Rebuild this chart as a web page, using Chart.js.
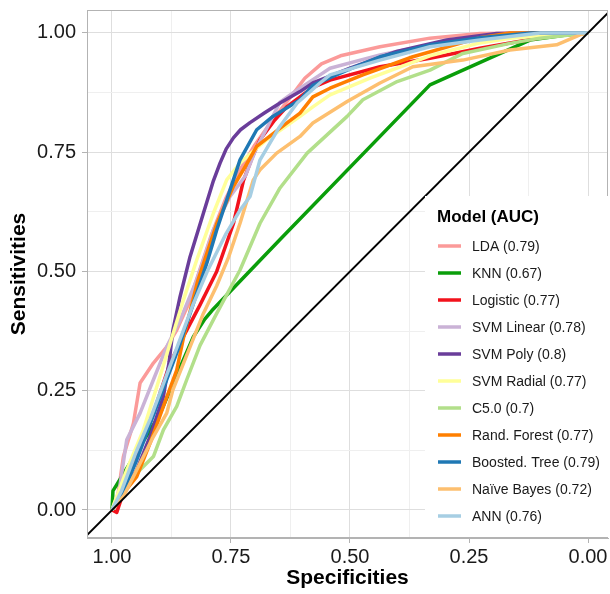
<!DOCTYPE html>
<html>
<head>
<meta charset="utf-8">
<script src="https://cdn.jsdelivr.net/npm/chart.js@4/dist/chart.umd.min.js"></script>
<style>
  html, body { margin: 0; padding: 0; background: #fff; }
</style>
</head>
<body>
<canvas id="roc" width="610" height="594"></canvas>
<script>
// ROC curves: specificity (x, reversed) and sensitivity (y)
const modelNames = ['LDA (0.79)', 'KNN (0.67)', 'Logistic (0.77)', 'SVM Linear (0.78)', 'SVM Poly (0.8)',
  'SVM Radial (0.77)', 'C5.0 (0.7)', 'Rand. Forest (0.77)', 'Boosted. Tree (0.79)', 'Naïve Bayes (0.72)', 'ANN (0.76)']
const modelColors = ['#FB9A99', '#0A9E0A', '#F2121C', '#CAB2D6', '#6A3D9A',
  '#FFFF99', '#B2DF8A', '#FF7F00', '#1F78B4', '#FDBF6F', '#A6CEE3']

const ldaSpec = [1, 0.99, 0.976, 0.955, 0.941, 0.913, 0.885, 0.864, 0.84, 0.82, 0.79, 0.76, 0.73, 0.70, 0.675, 0.647, 0.62, 0.595, 0.56, 0.52, 0.437, 0.332, 0.227, 0.1, 0]
const ldaSens = [0, 0.015, 0.112, 0.182, 0.266, 0.308, 0.342, 0.377, 0.43, 0.49, 0.58, 0.655, 0.715, 0.765, 0.80, 0.837, 0.872, 0.905, 0.935, 0.952, 0.971, 0.989, 0.999, 1, 1]

const knnSpec = [1, 0.998, 0.9, 0.829, 0.805, 0.79, 0.647, 0.332, 0.122, 0.05, 0]
const knnSens = [0, 0.04, 0.2, 0.363, 0.4, 0.418, 0.567, 0.891, 0.985, 0.995, 1]

const logSpec = [1, 0.99, 0.975, 0.955, 0.913, 0.878, 0.857, 0.836, 0.815, 0.78, 0.745, 0.724, 0.705, 0.689, 0.66, 0.633, 0.605, 0.578, 0.542, 0.437, 0.332, 0.227, 0.164, 0.1, 0.03, 0]
const logSens = [0, -0.005, 0.04, 0.098, 0.203, 0.308, 0.35, 0.39, 0.43, 0.5, 0.6, 0.69, 0.74, 0.776, 0.815, 0.845, 0.866, 0.886, 0.901, 0.929, 0.947, 0.968, 0.979, 0.99, 1, 1]

const svmLinSpec = [1, 0.985, 0.969, 0.941, 0.913, 0.885, 0.857, 0.822, 0.787, 0.752, 0.72, 0.696, 0.675, 0.647, 0.62, 0.563, 0.542, 0.437, 0.332, 0.227, 0.137, 0.05, 0]
const svmLinSens = [0, 0.04, 0.147, 0.203, 0.273, 0.342, 0.398, 0.482, 0.587, 0.657, 0.70, 0.76, 0.80, 0.855, 0.874, 0.912, 0.926, 0.954, 0.975, 0.99, 0.994, 1, 1]

const svmPolySpec = [1, 0.983, 0.948, 0.92, 0.892, 0.88, 0.872, 0.857, 0.836, 0.808, 0.787, 0.773, 0.76, 0.745, 0.73, 0.71, 0.68, 0.647, 0.605, 0.578, 0.5, 0.402, 0.297, 0.192, 0.1, 0]
const svmPolySens = [0, 0.028, 0.084, 0.154, 0.238, 0.31, 0.377, 0.447, 0.531, 0.622, 0.69, 0.727, 0.757, 0.78, 0.797, 0.812, 0.832, 0.853, 0.877, 0.895, 0.926, 0.961, 0.985, 0.999, 1, 1]

const svmRadSpec = [1, 0.995, 0.969, 0.934, 0.906, 0.878, 0.85, 0.822, 0.787, 0.759, 0.731, 0.7, 0.675, 0.605, 0.578, 0.542, 0.458, 0.332, 0.227, 0.164, 0.032, 0]
const svmRadSens = [0, 0.015, 0.084, 0.168, 0.258, 0.349, 0.44, 0.524, 0.622, 0.692, 0.727, 0.755, 0.776, 0.825, 0.845, 0.87, 0.905, 0.952, 0.979, 0.989, 1, 1]

const c50Spec = [1, 0.976, 0.955, 0.913, 0.892, 0.864, 0.843, 0.815, 0.78, 0.731, 0.689, 0.647, 0.59, 0.506, 0.473, 0.401, 0.332, 0.263, 0.164, 0.101, 0]
const c50Sens = [0, 0.035, 0.07, 0.112, 0.168, 0.217, 0.273, 0.345, 0.412, 0.503, 0.601, 0.675, 0.748, 0.825, 0.86, 0.898, 0.922, 0.957, 0.978, 0.989, 1]

const rfSpec = [1, 0.98, 0.948, 0.92, 0.892, 0.864, 0.85, 0.835, 0.82, 0.80, 0.78, 0.745, 0.72, 0.696, 0.633, 0.605, 0.578, 0.542, 0.473, 0.368, 0.227, 0.164, 0]
const rfSens = [0, 0.03, 0.07, 0.14, 0.217, 0.293, 0.36, 0.42, 0.48, 0.54, 0.60, 0.678, 0.72, 0.762, 0.811, 0.832, 0.866, 0.884, 0.912, 0.95, 0.99, 1, 1]

const btSpec = [1, 0.98, 0.95, 0.92, 0.89, 0.86, 0.83, 0.80, 0.78, 0.745, 0.731, 0.696, 0.662, 0.605, 0.578, 0.506, 0.437, 0.332, 0.227, 0.12, 0]
const btSens = [0, 0.03, 0.1, 0.18, 0.26, 0.34, 0.43, 0.52, 0.587, 0.692, 0.734, 0.797, 0.825, 0.86, 0.89, 0.922, 0.95, 0.975, 0.99, 1, 1]

const nbSpec = [1, 0.975, 0.945, 0.915, 0.885, 0.872, 0.836, 0.808, 0.78, 0.755, 0.731, 0.703, 0.689, 0.654, 0.605, 0.578, 0.506, 0.437, 0.368, 0.263, 0.164, 0.066, 0.017, 0]
const nbSens = [0, 0.03, 0.09, 0.15, 0.203, 0.252, 0.342, 0.412, 0.47, 0.53, 0.601, 0.692, 0.713, 0.748, 0.783, 0.811, 0.856, 0.895, 0.929, 0.943, 0.964, 0.975, 0.996, 1]

const annSpec = [1, 0.98, 0.95, 0.92, 0.89, 0.86, 0.83, 0.80, 0.76, 0.73, 0.71, 0.689, 0.65, 0.611, 0.563, 0.542, 0.437, 0.332, 0.227, 0.1, 0]
const annSens = [0, 0.04, 0.12, 0.19, 0.27, 0.35, 0.43, 0.50, 0.58, 0.63, 0.657, 0.734, 0.80, 0.853, 0.895, 0.912, 0.943, 0.971, 0.985, 1, 1]

const specs = [ldaSpec, knnSpec, logSpec, svmLinSpec, svmPolySpec, svmRadSpec, c50Spec, rfSpec, btSpec, nbSpec, annSpec]
const senss = [ldaSens, knnSens, logSens, svmLinSens, svmPolySens, svmRadSens, c50Sens, rfSens, btSens, nbSens, annSens]

// reference line sens = 1 - spec, runs past the panel and is clipped
const diagSpec = [1.1, -0.1]

const gridVals = [0, 0.125, 0.25, 0.375, 0.5, 0.625, 0.75, 0.875, 1]
const isMajor = v => Math.abs(v * 4 - Math.round(v * 4)) < 1e-6

const datasets = modelNames.map((name, i) => ({
  label: name,
  data: specs[i].map((s, j) => ({x: s, y: senss[i][j]})),
  borderColor: modelColors[i],
  backgroundColor: modelColors[i],
  borderWidth: 3.5,
  borderJoinStyle: 'round',
  showLine: true,
  pointRadius: 0,
  tension: 0,
  order: modelNames.length - i
}))
datasets.push({
  label: 'diag',
  data: diagSpec.map(s => ({x: s, y: 1 - s})),
  borderColor: '#000',
  borderWidth: 2,
  showLine: true,
  pointRadius: 0,
  order: 0
})

const panelBorder = {
  id: 'panelBorder',
  afterDatasetsDraw(chart) {
    const {ctx, chartArea: a} = chart
    ctx.save()
    ctx.strokeStyle = '#b3b3b3'
    ctx.lineWidth = 1
    ctx.strokeRect(a.left + 0.5, a.top + 0.5, a.right - a.left - 1, a.bottom - a.top - 1)
    ctx.restore()
  }
}

const legendBox = {
  id: 'legendBox',
  afterDraw(chart) {
    const {ctx, chartArea: a} = chart
    const x = a.right - 183
    const y = a.top + 186
    ctx.save()
    ctx.fillStyle = '#fff'
    ctx.fillRect(x, y, 190, a.bottom - y - 1)
    ctx.fillStyle = '#000'
    ctx.textBaseline = 'middle'
    ctx.font = 'bold 17px "Liberation Sans", Arial, sans-serif'
    ctx.fillText('Model (AUC)', x + 12, y + 21)
    ctx.font = '14px "Liberation Sans", Arial, sans-serif'
    chart.data.datasets.slice(0, modelNames.length).forEach((ds, i) => {
      const yy = y + 50 + i * 27
      ctx.strokeStyle = ds.borderColor
      ctx.lineWidth = 3.5
      ctx.beginPath()
      ctx.moveTo(x + 13, yy)
      ctx.lineTo(x + 36, yy)
      ctx.stroke()
      ctx.fillStyle = '#1a1a1a'
      ctx.fillText(ds.label, x + 47, yy + 1)
    })
    ctx.restore()
  }
}

const axisCommon = {
  type: 'linear',
  afterBuildTicks: scale => { scale.ticks = gridVals.map(v => ({value: v})) },
  grid: {
    color: c => isMajor(c.tick.value) ? '#dedede' : '#efefef',
    tickColor: c => isMajor(c.tick.value) ? '#b3b3b3' : 'rgba(0,0,0,0)',
    tickLength: 5
  },
  border: {display: true, color: '#b3b3b3'},
  ticks: {
    autoSkip: false,
    maxRotation: 0,
    color: '#1a1a1a',
    font: {family: '"Liberation Sans", Arial, sans-serif', size: 20},
    callback: v => isMajor(v) ? v.toFixed(2) : ''
  }
}

const noPad = scale => {
  scale.paddingTop = 0
  scale.paddingBottom = 0
  scale.paddingLeft = 0
  scale.paddingRight = 0
}

new Chart(document.getElementById('roc'), {
  type: 'scatter',
  data: {datasets: datasets},
  options: {
    responsive: false,
    animation: false,
    devicePixelRatio: 1,
    layout: {padding: {top: 10, right: 2, left: 0, bottom: 0}},
    plugins: {legend: {display: false}, tooltip: {enabled: false}},
    scales: {
      x: {
        ...axisCommon,
        reverse: true,
        min: -0.042,
        max: 1.0525,
        afterFit: scale => { scale.height = 56; noPad(scale) },
        ticks: {...axisCommon.ticks, padding: 2},
        title: {
          display: true,
          text: 'Specificities',
          color: '#000',
          font: {family: '"Liberation Sans", Arial, sans-serif', size: 21, weight: 'bold'},
          padding: {top: 0, bottom: 3}
        }
      },
      y: {
        ...axisCommon,
        min: -0.0587,
        max: 1.048,
        afterFit: scale => { scale.width = 87; noPad(scale) },
        ticks: {...axisCommon.ticks, padding: 6},
        title: {
          display: true,
          text: 'Sensitivities',
          color: '#000',
          font: {family: '"Liberation Sans", Arial, sans-serif', size: 21, weight: 'bold'},
          padding: {top: 7, bottom: 0}
        }
      }
    }
  },
  plugins: [panelBorder, legendBox]
})
</script>
</body>
</html>
